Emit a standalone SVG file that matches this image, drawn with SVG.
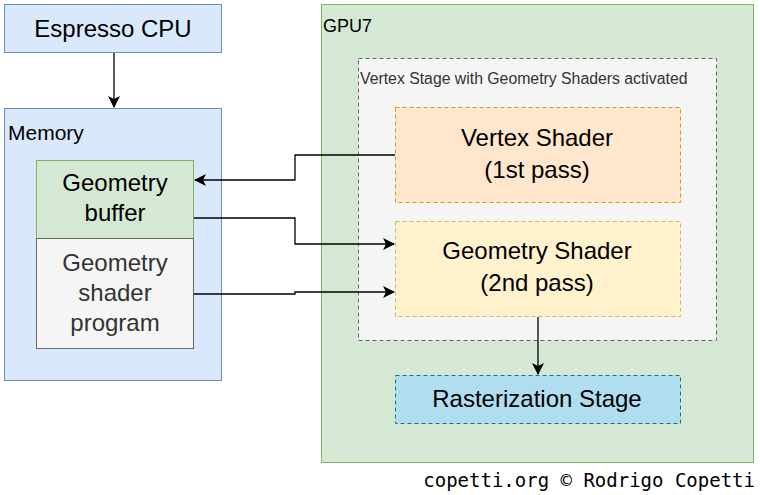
<svg xmlns="http://www.w3.org/2000/svg" width="760" height="495" viewBox="0 0 760 495">
<defs>
<marker id="ah" viewBox="0 0 12 12" refX="11" refY="6" markerWidth="12" markerHeight="12" markerUnits="userSpaceOnUse" orient="auto"><path d="M0,0 L12,6 L0,12 L3,6 Z" fill="#000"/></marker>
</defs>
<style>
text{font-family:"Liberation Sans",Arial,sans-serif;}
.big{font-size:24px;text-anchor:middle;fill:#000;}
.grey{fill:#333;}
.conn{fill:none;stroke:#000;stroke-width:1.3;marker-end:url(#ah);}
</style>
<rect width="760" height="495" fill="#fff"/>
<g id="cpu"><rect x="4.5" y="4.5" width="217" height="48" fill="#dae8fc" stroke="#6c8ebf"/><text class="big" x="113" y="37">Espresso CPU</text></g>
<g id="memory"><rect x="4.5" y="108.5" width="217" height="272" fill="#dae8fc" stroke="#6c8ebf"/><text x="8" y="140" font-size="21">Memory</text></g>
<g id="geombuf"><rect x="36.5" y="160.5" width="157" height="78" fill="#d5e8d4" stroke="#82b366"/><text class="big" x="115" y="191">Geometry</text><text class="big" x="115" y="221">buffer</text></g>
<g id="geomprog"><rect x="36.5" y="238.5" width="157" height="110" fill="#f5f5f5" stroke="#666"/><text class="big grey" x="115" y="271">Geometry</text><text class="big grey" x="115" y="301">shader</text><text class="big grey" x="115" y="331">program</text></g>
<g id="gpu7"><rect x="321.5" y="4.5" width="432" height="458" fill="#d5e8d4" stroke="#82b366"/><text x="323" y="32" font-size="18">GPU7</text></g>
<g id="vertexstage"><rect x="358.5" y="58.5" width="358" height="282" fill="#f5f5f5" stroke="#666" stroke-dasharray="4 3"/><text x="360" y="84" font-size="15.8" class="grey">Vertex Stage with Geometry Shaders activated</text></g>
<g id="vshader"><rect x="395.5" y="107.5" width="285" height="95" fill="#ffe6cc" stroke="#d79b00" stroke-dasharray="4 3"/><text class="big" x="537" y="146">Vertex Shader</text><text class="big" x="537" y="178">(1st pass)</text></g>
<g id="gshader"><rect x="395.5" y="221.5" width="285" height="95" fill="#fff2cc" stroke="#d6b656" stroke-dasharray="4 3"/><text class="big" x="537" y="259">Geometry Shader</text><text class="big" x="537" y="291">(2nd pass)</text></g>
<g id="raster"><rect x="395.5" y="375.5" width="285" height="48" fill="#b1ddf0" stroke="#10739e" stroke-dasharray="4 3"/><text class="big" x="537" y="407">Rasterization Stage</text></g>
<g id="connectors">
<path class="conn" d="M114,53 V107"/>
<path class="conn" d="M395,155 H295 V180 H195"/>
<path class="conn" d="M194,218 H295 V244 H394"/>
<path class="conn" d="M194,294 H295 V292 H394"/>
<path class="conn" d="M538,317 V374"/>
</g>
<text x="755" y="487" font-size="19" text-anchor="end" style="font-family:'DejaVu Sans Mono',monospace">copetti.org © Rodrigo Copetti</text>
</svg>
